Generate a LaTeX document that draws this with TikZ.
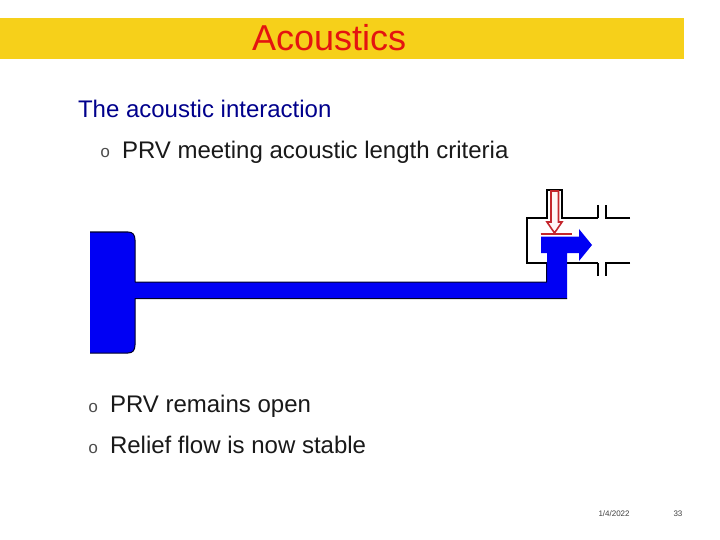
\documentclass[tikz,border=0pt]{standalone}
\usepackage{fontspec}
\setmainfont{Liberation Sans}
\newfontfamily\bulletfont{Liberation Mono}
\definecolor{bar}{HTML}{F6D01A}
\definecolor{flow}{HTML}{0000F4}
\definecolor{prv}{HTML}{C4262C}
\definecolor{headblue}{HTML}{00008C}
\definecolor{titlered}{HTML}{E41410}
\tikzset{
 txt/.style={anchor=base west,inner sep=0pt,outer sep=0pt},
 body/.style={font=\fontsize{24}{28}\selectfont,txt,text=black!90},
 bul/.style={font=\bulletfont\fontsize{17}{18}\selectfont,txt,text=black!70},
 foot/.style={font=\fontsize{8}{10}\selectfont,txt,text=black!75},
 wall/.style={draw=black,line width=2pt,line join=miter},
 edge/.style={draw=black!85!blue,line width=1pt,line join=round},
}
\begin{document}
\begin{tikzpicture}[x=1pt,y=-1pt]
\useasboundingbox (0,0) rectangle (720,540);
\fill[white] (0,0) rectangle (720,540);
\fill[bar] (0,18) rectangle (684,59);
\node[txt,font=\fontsize{36}{40}\selectfont,text=titlered] (title) at (252,50.5) {Acoustics};
\node[body,text=headblue] (head) at (78,117.5) {The acoustic interaction};
\node[bul] (b1) at (100,158) {o};
\node[body] (t1) at (122,158.5) {PRV meeting acoustic length criteria};
\node[bul] (b2) at (88,412) {o};
\node[body] (t2) at (110,412) {PRV remains open};
\node[bul] (b3) at (88,453) {o};
\node[body] (t3) at (110,453) {Relief flow is now stable};
\node[foot] (date) at (598.5,516.5) {1/4/2022};
\node[foot] (page) at (673.5,516.5) {33};
% valve body walls
\draw[wall] (598,205) -- (598,218) (630,218) -- (606,218) -- (606,205);
\draw[wall] (598,276) -- (598,262.5) (630,262.5) -- (606,262.5) -- (606,276);
\draw[wall] (598,218) -- (562,218) -- (562,190) -- (547,190) -- (547,218) -- (527,218) -- (527,262.5) -- (598,262.5);
% blue fluid
\fill[flow]
 (90,232) -- (128,232) .. controls (133,232) and (135,235) .. (135,240)
 -- (135,282) -- (547,282) -- (547,253) -- (541,253) -- (541,236.5) -- (579,236.5) -- (579,229)
 -- (592,245) -- (579,261) -- (579,253) -- (567,253) -- (567,298.5) -- (135,298.5)
 -- (135,345) .. controls (135,350) and (133,353) .. (128,353) -- (90,353) -- cycle;
\draw[edge] (90,232) -- (128,232) .. controls (133,232) and (135,235) .. (135,240)
 -- (135,282) -- (546.5,282) -- (546.5,262);
\draw[edge] (567,298.5) -- (135,298.5) -- (135,345) .. controls (135,350) and (133,353) .. (128,353) -- (90,353);
% relief valve
\draw[draw=prv,line width=1.6pt,fill=red!4,line join=miter]
 (551,191) -- (558.5,191) -- (558.5,222) -- (562,222) -- (554.5,233) -- (547,222) -- (551,222) -- cycle;
\draw[draw=prv,line width=1.6pt] (540.5,234) -- (572,234);
\end{tikzpicture}
\end{document}
